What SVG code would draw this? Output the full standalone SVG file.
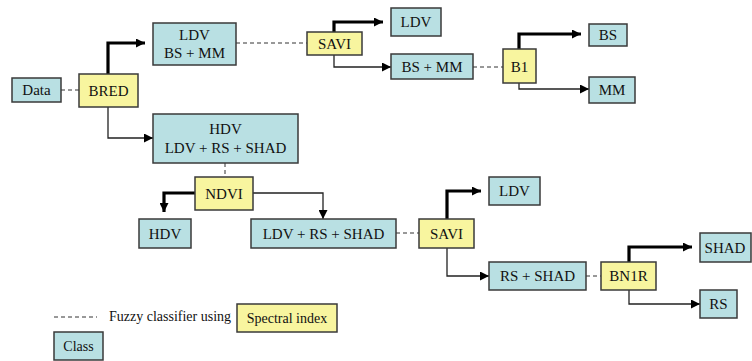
<svg xmlns="http://www.w3.org/2000/svg" width="752" height="361" viewBox="0 0 752 361">
<style>
.cls{fill:#b9e0e3;stroke:#3a3a3a;stroke-width:1.5}
.idx{fill:#f8f59f;stroke:#3a3a3a;stroke-width:1.5}
text{fill:#111;text-anchor:middle}
.thick{fill:none;stroke:#000;stroke-width:3.2}
.thin{fill:none;stroke:#222;stroke-width:1.3}
.dash{fill:none;stroke:#333;stroke-width:1;stroke-dasharray:4,3}
</style>
<defs>
<marker id="ah" viewBox="0 0 10 10" refX="10" refY="5" markerWidth="9" markerHeight="9" markerUnits="userSpaceOnUse" orient="auto">
<path d="M0,0 L10,5 L0,10 z" fill="#000"/>
</marker>
</defs>
<g id="connectors">
<line class="dash" x1="61" y1="90" x2="79" y2="90"/>
<path class="thick" d="M108,74 V43 H145" marker-end="url(#ah)"/>
<path class="thin" d="M108,107 V138 H153" marker-end="url(#ah)"/>
<line class="dash" x1="236" y1="43" x2="307" y2="43"/>
<path class="thick" d="M334,32 V22 H383" marker-end="url(#ah)"/>
<path class="thin" d="M334,55 V67 H391" marker-end="url(#ah)"/>
<line class="dash" x1="473" y1="67" x2="503" y2="67"/>
<path class="thick" d="M519,49 V34 H581" marker-end="url(#ah)"/>
<path class="thin" d="M519,83 V89 H589" marker-end="url(#ah)"/>
<line class="dash" x1="225" y1="163" x2="225" y2="177"/>
<path class="thick" d="M195,193 H164 V212" marker-end="url(#ah)"/>
<path class="thin" d="M253,193 H323 V219" marker-end="url(#ah)"/>
<line class="dash" x1="396" y1="233" x2="419" y2="233"/>
<path class="thick" d="M447,219 V191 H481" marker-end="url(#ah)"/>
<path class="thin" d="M447,248 V276 H489" marker-end="url(#ah)"/>
<line class="dash" x1="586" y1="276" x2="601" y2="276"/>
<path class="thick" d="M629,262 V247 H692" marker-end="url(#ah)"/>
<path class="thin" d="M629,290 V304 H700" marker-end="url(#ah)"/>
</g>
<g id="data"><rect class="cls" x="12" y="78" width="49" height="24"/><text x="36.5" y="95" font-family="Liberation Serif" font-size="15">Data</text></g>
<g id="bred"><rect class="idx" x="79" y="74" width="59" height="33"/><text x="108.5" y="96" font-family="Liberation Serif" font-size="15">BRED</text></g>
<g id="ldv-bsmm"><rect class="cls" x="153" y="23" width="83" height="42"/><text x="194.5" y="40" font-family="Liberation Serif" font-size="15">LDV</text><text x="194.5" y="58" font-family="Liberation Serif" font-size="15">BS + MM</text></g>
<g id="hdv-mix"><rect class="cls" x="153" y="114" width="145" height="49"/><text x="225.5" y="134" font-family="Liberation Serif" font-size="15">HDV</text><text x="225.5" y="153" font-family="Liberation Serif" font-size="15">LDV + RS + SHAD</text></g>
<g id="savi1"><rect class="idx" x="307" y="32" width="55" height="23"/><text x="334.5" y="49" font-family="Liberation Serif" font-size="15">SAVI</text></g>
<g id="ldv1"><rect class="cls" x="391" y="8" width="50" height="28"/><text x="416" y="27" font-family="Liberation Serif" font-size="15">LDV</text></g>
<g id="bsmm"><rect class="cls" x="391" y="54" width="82" height="25"/><text x="432" y="72" font-family="Liberation Serif" font-size="15">BS + MM</text></g>
<g id="b1"><rect class="idx" x="503" y="49" width="33" height="34"/><text x="519.5" y="72" font-family="Liberation Serif" font-size="15">B1</text></g>
<g id="bs"><rect class="cls" x="589" y="24" width="38" height="22"/><text x="608" y="40" font-family="Liberation Serif" font-size="15">BS</text></g>
<g id="mm"><rect class="cls" x="589" y="77" width="46" height="26"/><text x="612" y="95" font-family="Liberation Serif" font-size="15">MM</text></g>
<g id="ndvi"><rect class="idx" x="195" y="177" width="58" height="33"/><text x="224" y="199" font-family="Liberation Serif" font-size="15">NDVI</text></g>
<g id="hdv"><rect class="cls" x="139" y="219" width="52" height="29"/><text x="165" y="239" font-family="Liberation Serif" font-size="15">HDV</text></g>
<g id="ldvrsshad"><rect class="cls" x="251" y="219" width="145" height="29"/><text x="323.5" y="239" font-family="Liberation Serif" font-size="15">LDV + RS + SHAD</text></g>
<g id="savi2"><rect class="idx" x="419" y="219" width="55" height="29"/><text x="446.5" y="239" font-family="Liberation Serif" font-size="15">SAVI</text></g>
<g id="ldv2"><rect class="cls" x="489" y="177" width="51" height="28"/><text x="514.5" y="196" font-family="Liberation Serif" font-size="15">LDV</text></g>
<g id="rsshad"><rect class="cls" x="489" y="262" width="97" height="28"/><text x="537.5" y="281" font-family="Liberation Serif" font-size="15">RS + SHAD</text></g>
<g id="bn1r"><rect class="idx" x="601" y="262" width="55" height="28"/><text x="628.5" y="281" font-family="Liberation Serif" font-size="15">BN1R</text></g>
<g id="shad"><rect class="cls" x="700" y="233" width="51" height="29"/><text x="725" y="253" font-family="Liberation Serif" font-size="15">SHAD</text></g>
<g id="rs"><rect class="cls" x="700" y="290" width="37" height="28"/><text x="718.5" y="309" font-family="Liberation Serif" font-size="15">RS</text></g>
<g id="legend">
<line class="dash" x1="54" y1="317" x2="97" y2="317"/>
<text x="109" y="321" style="text-anchor:start" font-family="Liberation Serif" font-size="14">Fuzzy classifier using</text>
<rect class="idx" x="237" y="304" width="100" height="28"/><text x="287" y="323" font-family="Liberation Serif" font-size="14">Spectral index</text>
<rect class="cls" x="54" y="332" width="49" height="28"/><text x="78.5" y="351" font-family="Liberation Serif" font-size="14">Class</text>
</g>
</svg>
